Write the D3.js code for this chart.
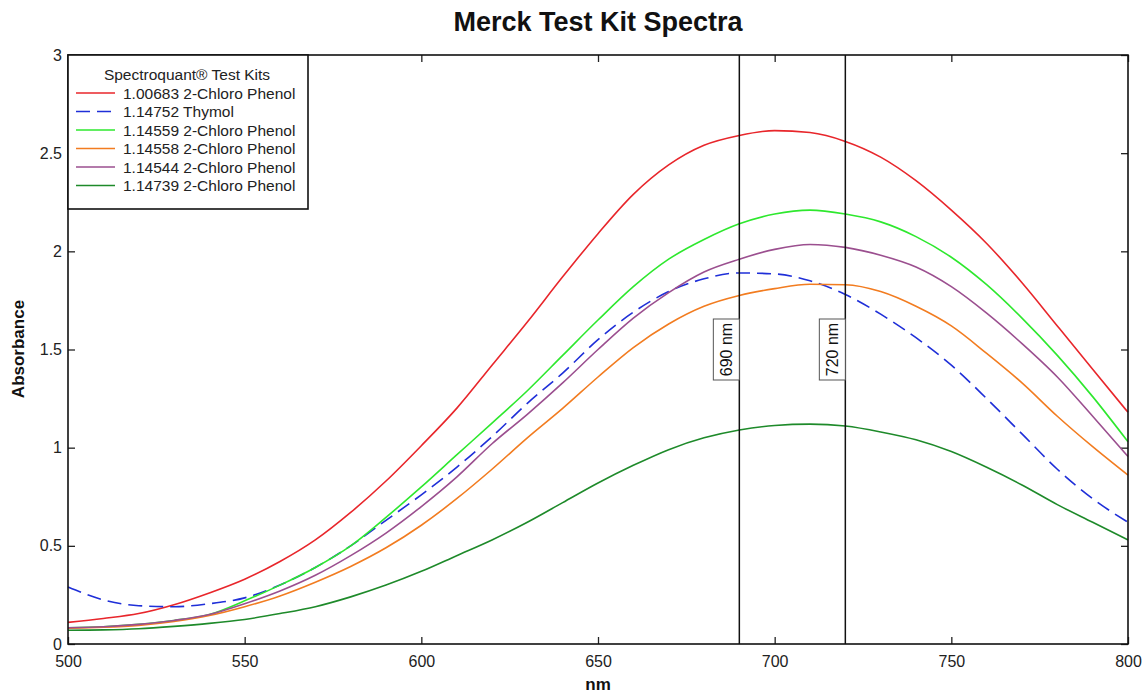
<!DOCTYPE html>
<html><head><meta charset="utf-8">
<script src="https://cdn.jsdelivr.net/npm/d3@7"></script>
<style>body{margin:0;background:#fff}svg{display:block}</style>
</head><body>
<svg id="chart" width="1146" height="694"></svg>
<script>
const wavelengths = [500,510,520,530,540,550,560,570,580,590,600,610,620,630,640,650,660,670,680,690,700,710,720,730,740,750,760,770,780,790,800];
const seriesNames = ["1.00683 2-Chloro Phenol","1.14752 Thymol","1.14559 2-Chloro Phenol","1.14558 2-Chloro Phenol","1.14544 2-Chloro Phenol","1.14739 2-Chloro Phenol"];
const red =    [0.11,0.13,0.155,0.20,0.26,0.33,0.42,0.53,0.67,0.83,1.01,1.20,1.42,1.64,1.87,2.09,2.29,2.44,2.54,2.59,2.615,2.605,2.56,2.48,2.36,2.21,2.04,1.84,1.62,1.40,1.18];
const thymol = [0.29,0.225,0.195,0.19,0.205,0.235,0.30,0.39,0.50,0.63,0.76,0.90,1.056,1.226,1.38,1.55,1.69,1.795,1.86,1.89,1.885,1.85,1.78,1.68,1.56,1.42,1.25,1.07,0.89,0.74,0.62];
const green =  [0.083,0.088,0.10,0.12,0.15,0.22,0.30,0.39,0.50,0.645,0.80,0.963,1.125,1.29,1.47,1.65,1.82,1.96,2.06,2.14,2.19,2.21,2.19,2.15,2.075,1.97,1.83,1.66,1.47,1.26,1.03];
const orange = [0.08,0.085,0.095,0.115,0.145,0.19,0.245,0.315,0.395,0.49,0.605,0.74,0.89,1.05,1.20,1.36,1.51,1.63,1.72,1.775,1.81,1.832,1.83,1.795,1.72,1.62,1.48,1.33,1.16,1.005,0.86];
const purple = [0.083,0.088,0.10,0.12,0.15,0.205,0.27,0.35,0.45,0.565,0.70,0.85,1.02,1.17,1.33,1.50,1.66,1.79,1.895,1.96,2.01,2.035,2.02,1.98,1.92,1.82,1.685,1.53,1.36,1.16,0.955];
const darkgreen = [0.07,0.072,0.078,0.09,0.105,0.125,0.155,0.19,0.24,0.30,0.37,0.45,0.53,0.62,0.72,0.82,0.91,0.99,1.05,1.09,1.113,1.12,1.11,1.08,1.04,0.98,0.90,0.81,0.71,0.62,0.53];
const seriesColors = ["#e8262b","#1f2fd8","#2ee82e","#f27c20","#9b4f8f","#1e8a2a"];
const xTicks = [500,550,600,650,700,750,800];
const yTicks = [0,0.5,1,1.5,2,2.5,3];
const markers = [690,720];
const markerLabels = ["690 nm","720 nm"];

const allValues = [red,thymol,green,orange,purple,darkgreen];
const svg = d3.select("#chart");
const L=68,R=1128,T=55,B=644;
const x = d3.scaleLinear().domain([500,800]).range([L,R]);
const y = d3.scaleLinear().domain([0,3]).range([B,T]);
const font = "'Liberation Sans', Arial, sans-serif";

// title
svg.append("text").attr("x",(L+R)/2).attr("y",31).attr("text-anchor","middle")
  .attr("font-family",font).attr("font-weight","bold").attr("font-size",27).attr("fill","#111")
  .text("Merck Test Kit Spectra");

// axes with inward ticks
const gx = svg.append("g").attr("transform",`translate(0,${B})`)
  .call(d3.axisBottom(x).tickValues(xTicks).tickSize(-7).tickPadding(12).tickFormat(d3.format("d")));
const gxt = svg.append("g").attr("transform",`translate(0,${T})`)
  .call(d3.axisTop(x).tickValues(xTicks).tickSize(-7).tickFormat(""));
const gy = svg.append("g").attr("transform",`translate(${L},0)`)
  .call(d3.axisLeft(y).tickValues(yTicks).tickSize(-7).tickPadding(6).tickFormat(d=>d));
const gyr = svg.append("g").attr("transform",`translate(${R},0)`)
  .call(d3.axisRight(y).tickValues(yTicks).tickSize(-7).tickFormat(""));
[gx,gxt,gy,gyr].forEach(g=>{
  g.select(".domain").remove();
  g.selectAll(".tick line").attr("stroke","#222").attr("stroke-width",1.3);
  g.selectAll(".tick text").attr("font-family",font).attr("font-size",16).attr("fill","#222");
});

// lines
const line = d3.line().x((d,i)=>x(wavelengths[i])).y(d=>y(d)).curve(d3.curveMonotoneX);
allValues.forEach((vals,k)=>{
  svg.append("path").attr("d",line(vals)).attr("fill","none")
    .attr("stroke",seriesColors[k]).attr("stroke-width",1.6)
    .attr("stroke-dasharray",k===1?"14,7":null);
});

// markers
markers.forEach((m,i)=>{
  const mx = x(m);
  svg.append("line").attr("x1",mx).attr("x2",mx).attr("y1",T).attr("y2",B)
    .attr("stroke","#111").attr("stroke-width",1.5);
  svg.append("rect").attr("x",mx-26).attr("y",319).attr("width",26).attr("height",61)
    .attr("fill","#fff").attr("stroke","#555").attr("stroke-width",1);
  svg.append("text").attr("transform",`translate(${mx-7.5},349.5) rotate(-90)`)
    .attr("text-anchor","middle").attr("font-family",font).attr("font-size",16).attr("fill","#111")
    .text(markerLabels[i]);
});

// frame
svg.append("rect").attr("x",L).attr("y",T).attr("width",R-L).attr("height",B-T)
  .attr("fill","none").attr("stroke","#111").attr("stroke-width",1.6);

// axis titles
svg.append("text").attr("x",(L+R)/2).attr("y",690).attr("text-anchor","middle")
  .attr("font-family",font).attr("font-weight","bold").attr("font-size",17).attr("fill","#111").text("nm");
svg.append("text").attr("transform","translate(24,349) rotate(-90)").attr("text-anchor","middle")
  .attr("font-family",font).attr("font-weight","bold").attr("font-size",17).attr("fill","#111").text("Absorbance");

// legend
const lg = svg.append("g");
lg.append("rect").attr("x",L).attr("y",T).attr("width",240).attr("height",154)
  .attr("fill","#fff").attr("stroke","#111").attr("stroke-width",1.6);
lg.append("text").attr("x",187).attr("y",80).attr("text-anchor","middle")
  .attr("font-family",font).attr("font-size",15.5).attr("fill","#222").text("Spectroquant® Test Kits");
seriesNames.forEach((n,k)=>{
  const yy = 93 + k*18.5;
  lg.append("line").attr("x1",76).attr("x2",115).attr("y1",yy).attr("y2",yy)
    .attr("stroke",seriesColors[k]).attr("stroke-width",1.6)
    .attr("stroke-dasharray",k===1?"14,7":null);
  lg.append("text").attr("x",123).attr("y",yy+5.5).attr("font-family",font).attr("font-size",15.5)
    .attr("fill","#222").text(n);
});
</script>
</body></html>
